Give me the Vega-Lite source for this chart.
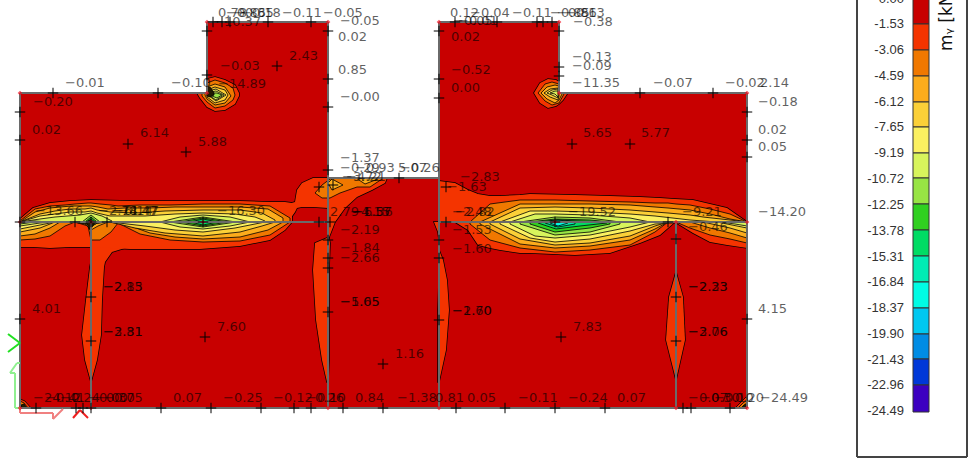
{"$schema":"https://vega.github.io/schema/vega-lite/v6.json","width":973,"height":458,"padding":0,"autosize":{"type":"none"},"background":"#ffffff","view":{"stroke":null},
"datasets":{
"base":[{"x":20,"x2":328,"y":93,"y2":408,"c":"L1"},{"x":207,"x2":328,"y":22,"y2":93,"c":"L1"},{"x":328,"x2":439,"y":178,"y2":408,"c":"L1"},{"x":439,"x2":747,"y":93,"y2":408,"c":"L1"},{"x":439,"x2":559,"y":22,"y2":93,"c":"L1"}],
"stems":[
{"k":"s1","c":"L2","y":245,"x":91,"x2":140},{"k":"s1","c":"L2","y":248,"x":91,"x2":125},{"k":"s1","c":"L2","y":252,"x":91,"x2":112},{"k":"s1","c":"L2","y":262,"x":91,"x2":105},{"k":"s1","c":"L2","y":267,"x":90,"x2":104},{"k":"s1","c":"L2","y":300,"x":86,"x2":102},{"k":"s1","c":"L2","y":335,"x":82,"x2":101},{"k":"s1","c":"L2","y":360,"x":85,"x2":97},{"k":"s1","c":"L2","y":382,"x":91,"x2":91},
{"k":"s2","c":"L2","y":238,"x":327,"x2":329},{"k":"s2","c":"L2","y":243,"x":315,"x2":330},{"k":"s2","c":"L2","y":270,"x":313,"x2":329},{"k":"s2","c":"L2","y":320,"x":316,"x2":329},{"k":"s2","c":"L2","y":360,"x":322,"x2":329},{"k":"s2","c":"L2","y":382,"x":327,"x2":328},
{"k":"s3","c":"L2","y":250,"x":439,"x2":439},{"k":"s3","c":"L2","y":260,"x":439,"x2":443},{"k":"s3","c":"L2","y":280,"x":439,"x2":447},{"k":"s3","c":"L2","y":310,"x":438,"x2":449},{"k":"s3","c":"L2","y":350,"x":438,"x2":446},{"k":"s3","c":"L2","y":382,"x":438,"x2":439},
{"k":"s4","c":"L2","y":222,"x":434,"x2":439},{"k":"s4","c":"L2","y":232,"x":438,"x2":439},{"k":"s4","c":"L2","y":240,"x":439,"x2":439},
{"k":"s5","c":"L2","y":272,"x":676,"x2":676},{"k":"s5","c":"L2","y":297,"x":669,"x2":683},{"k":"s5","c":"L2","y":340,"x":666,"x2":685},{"k":"s5","c":"L2","y":380,"x":676,"x2":676}],
"big":[
{"k":"a","c":"L2","x":20,"y":219,"y2":247},{"k":"a","c":"L2","x":33,"y":208,"y2":247},{"k":"a","c":"L2","x":50,"y":203,"y2":248},{"k":"a","c":"L2","x":70,"y":201,"y2":247},{"k":"a","c":"L2","x":91,"y":200,"y2":247},{"k":"a","c":"L2","x":130,"y":201,"y2":249},{"k":"a","c":"L2","x":200,"y":201,"y2":249},{"k":"a","c":"L2","x":240,"y":201,"y2":246},{"k":"a","c":"L2","x":270,"y":202,"y2":240},{"k":"a","c":"L2","x":285,"y":202,"y2":230},{"k":"a","c":"L2","x":292,"y":203,"y2":222},
{"k":"n","c":"L2","x":288,"y":204,"y2":222},{"k":"n","c":"L2","x":295,"y":202,"y2":212},{"k":"n","c":"L2","x":297,"y":190,"y2":208},{"k":"n","c":"L2","x":302,"y":183,"y2":207},{"k":"n","c":"L2","x":313,"y":178,"y2":207},{"k":"n","c":"L2","x":328,"y":178,"y2":208},{"k":"n","c":"L2","x":328.01,"y":178,"y2":240},{"k":"n","c":"L2","x":335,"y":178,"y2":222},{"k":"n","c":"L2","x":345,"y":178,"y2":208},{"k":"n","c":"L2","x":357,"y":178,"y2":197},{"k":"n","c":"L2","x":372,"y":178,"y2":190},{"k":"n","c":"L2","x":385,"y":178,"y2":183},{"k":"n","c":"L2","x":387,"y":178,"y2":178},
{"k":"r","c":"L2","x":439,"y":181,"y2":222},{"k":"r","c":"L2","x":455,"y":183,"y2":222},{"k":"r","c":"L2","x":468,"y":190,"y2":230},{"k":"r","c":"L2","x":478,"y":194,"y2":245},{"k":"r","c":"L2","x":490,"y":196,"y2":248},{"k":"r","c":"L2","x":500,"y":196,"y2":250},{"k":"r","c":"L2","x":520,"y":195,"y2":253},{"k":"r","c":"L2","x":530,"y":194,"y2":253},{"k":"r","c":"L2","x":575,"y":195,"y2":255},{"k":"r","c":"L2","x":610,"y":196,"y2":253},{"k":"r","c":"L2","x":640,"y":197,"y2":243},{"k":"r","c":"L2","x":660,"y":198,"y2":235},{"k":"r","c":"L2","x":675,"y":199,"y2":222},{"k":"r","c":"L2","x":693,"y":200,"y2":233},{"k":"r","c":"L2","x":710,"y":204,"y2":242},{"k":"r","c":"L2","x":727,"y":208,"y2":245},{"k":"r","c":"L2","x":747,"y":222,"y2":248},
{"k":"tb","c":"L2","x":197,"y":93,"y2":93},{"k":"tb","c":"L2","x":200,"y":93,"y2":98},{"k":"tb","c":"L2","x":207,"y":93,"y2":107},{"k":"tb","c":"L2","x":207.01,"y":79,"y2":107},{"k":"tb","c":"L2","x":215,"y":77,"y2":111},{"k":"tb","c":"L2","x":225,"y":80,"y2":110},{"k":"tb","c":"L2","x":235,"y":85,"y2":104},{"k":"tb","c":"L2","x":239,"y":93,"y2":96},
{"k":"tc","c":"L2","x":534,"y":93,"y2":93},{"k":"tc","c":"L2","x":540,"y":83,"y2":103},{"k":"tc","c":"L2","x":548,"y":79,"y2":108},{"k":"tc","c":"L2","x":556,"y":80,"y2":106},{"k":"tc","c":"L2","x":559,"y":82,"y2":104},{"k":"tc","c":"L2","x":559.01,"y":93,"y2":104},{"k":"tc","c":"L2","x":563,"y":93,"y2":100},{"k":"tc","c":"L2","x":567,"y":93,"y2":94}],
"bands":[
{"k":"l3","c":"L3","x":20,"y":221,"y2":240},{"k":"l3","c":"L3","x":35,"y":209,"y2":239},{"k":"l3","c":"L3","x":50,"y":206,"y2":236},{"k":"l3","c":"L3","x":65,"y":205,"y2":226},{"k":"l3","c":"L3","x":75,"y":204,"y2":222},{"k":"l3","c":"L3","x":88,"y":203,"y2":226},{"k":"l3","c":"L3","x":91,"y":203,"y2":240},{"k":"l3","c":"L3","x":100,"y":204,"y2":240},{"k":"l3","c":"L3","x":111,"y":205,"y2":232},{"k":"l3","c":"L3","x":118,"y":206,"y2":223},{"k":"l3","c":"L3","x":140,"y":205,"y2":234},{"k":"l3","c":"L3","x":170,"y":205,"y2":240},{"k":"l3","c":"L3","x":203,"y":204,"y2":242},{"k":"l3","c":"L3","x":240,"y":204,"y2":241},{"k":"l3","c":"L3","x":270,"y":206,"y2":235},{"k":"l3","c":"L3","x":290,"y":218,"y2":222},
{"k":"l4","c":"L4","x":20,"y":222,"y2":236},{"k":"l4","c":"L4","x":35,"y":212,"y2":234},{"k":"l4","c":"L4","x":50,"y":208,"y2":228},{"k":"l4","c":"L4","x":60,"y":207,"y2":222},{"k":"l4","c":"L4","x":72,"y":206,"y2":222},{"k":"l4","c":"L4","x":85,"y":206,"y2":224},{"k":"l4","c":"L4","x":91,"y":206,"y2":230},{"k":"l4","c":"L4","x":98,"y":207,"y2":226},{"k":"l4","c":"L4","x":108,"y":209,"y2":222},{"k":"l4","c":"L4","x":125,"y":208,"y2":224},{"k":"l4","c":"L4","x":150,"y":208,"y2":233},{"k":"l4","c":"L4","x":175,"y":207,"y2":237},{"k":"l4","c":"L4","x":203,"y":207,"y2":239},{"k":"l4","c":"L4","x":240,"y":207,"y2":237},{"k":"l4","c":"L4","x":268,"y":209,"y2":230},{"k":"l4","c":"L4","x":283,"y":218,"y2":222},
{"k":"l5","c":"L5","x":20,"y":222,"y2":232},{"k":"l5","c":"L5","x":40,"y":214,"y2":228},{"k":"l5","c":"L5","x":55,"y":211,"y2":222},{"k":"l5","c":"L5","x":70,"y":209,"y2":222},{"k":"l5","c":"L5","x":85,"y":209,"y2":223},{"k":"l5","c":"L5","x":91,"y":208,"y2":227},{"k":"l5","c":"L5","x":97,"y":210,"y2":223},{"k":"l5","c":"L5","x":110,"y":212,"y2":222},{"k":"l5","c":"L5","x":135,"y":213,"y2":228},{"k":"l5","c":"L5","x":165,"y":211,"y2":233},{"k":"l5","c":"L5","x":203,"y":210,"y2":236},{"k":"l5","c":"L5","x":240,"y":210,"y2":232},{"k":"l5","c":"L5","x":262,"y":213,"y2":226},{"k":"l5","c":"L5","x":275,"y":220,"y2":222},
{"k":"l6","c":"L6","x":20,"y":222,"y2":229},{"k":"l6","c":"L6","x":40,"y":216,"y2":225},{"k":"l6","c":"L6","x":55,"y":214,"y2":222},{"k":"l6","c":"L6","x":70,"y":212,"y2":222},{"k":"l6","c":"L6","x":85,"y":212,"y2":223},{"k":"l6","c":"L6","x":91,"y":211,"y2":226},{"k":"l6","c":"L6","x":97,"y":213,"y2":223},{"k":"l6","c":"L6","x":110,"y":216,"y2":222},{"k":"l6","c":"L6","x":145,"y":216,"y2":226},{"k":"l6","c":"L6","x":175,"y":214,"y2":230},{"k":"l6","c":"L6","x":203,"y":213,"y2":232},{"k":"l6","c":"L6","x":235,"y":214,"y2":228},{"k":"l6","c":"L6","x":255,"y":217,"y2":224},{"k":"l6","c":"L6","x":265,"y":221,"y2":222},
{"k":"l7a","c":"L7","x":20,"y":222,"y2":226},{"k":"l7a","c":"L7","x":40,"y":219,"y2":223},{"k":"l7a","c":"L7","x":55,"y":217,"y2":222},{"k":"l7a","c":"L7","x":80,"y":215,"y2":222},{"k":"l7a","c":"L7","x":91,"y":213,"y2":225},{"k":"l7a","c":"L7","x":102,"y":216,"y2":222},{"k":"l7a","c":"L7","x":112,"y":221,"y2":222},
{"k":"l7b","c":"L7","x":160,"y":222,"y2":222},{"k":"l7b","c":"L7","x":180,"y":217,"y2":227},{"k":"l7b","c":"L7","x":203,"y":215,"y2":229},{"k":"l7b","c":"L7","x":230,"y":217,"y2":226},{"k":"l7b","c":"L7","x":250,"y":222,"y2":222},
{"k":"l8a","c":"L8","x":20,"y":222,"y2":224},{"k":"l8a","c":"L8","x":35,"y":221,"y2":222},{"k":"l8a","c":"L8","x":48,"y":222,"y2":222},
{"k":"l8b","c":"L8","x":82,"y":222,"y2":222},{"k":"l8b","c":"L8","x":91,"y":215,"y2":224},{"k":"l8b","c":"L8","x":100,"y":222,"y2":222},
{"k":"l8c","c":"L8","x":170,"y":222,"y2":222},{"k":"l8c","c":"L8","x":203,"y":217,"y2":227},{"k":"l8c","c":"L8","x":236,"y":222,"y2":222},
{"k":"l9a","c":"L9","x":85,"y":222,"y2":222},{"k":"l9a","c":"L9","x":91,"y":217,"y2":224},{"k":"l9a","c":"L9","x":97,"y":222,"y2":222},
{"k":"l9b","c":"L9","x":180,"y":222,"y2":222},{"k":"l9b","c":"L9","x":203,"y":218,"y2":226},{"k":"l9b","c":"L9","x":228,"y":222,"y2":222},
{"k":"l10a","c":"L10","x":87,"y":222,"y2":222},{"k":"l10a","c":"L10","x":91,"y":219,"y2":224},{"k":"l10a","c":"L10","x":95,"y":222,"y2":222},
{"k":"l10b","c":"L10","x":190,"y":222,"y2":222},{"k":"l10b","c":"L10","x":203,"y":219,"y2":225},{"k":"l10b","c":"L10","x":218,"y":222,"y2":222},
{"k":"inkA","c":"ink","x":86,"y":222,"y2":222},{"k":"inkA","c":"ink","x":90,"y":220,"y2":230},{"k":"inkA","c":"ink","x":94,"y":222,"y2":224},
{"k":"nb3","c":"L3","x":315,"y":193,"y2":193},{"k":"nb3","c":"L3","x":322,"y":185,"y2":198},{"k":"nb3","c":"L3","x":330,"y":179,"y2":198},{"k":"nb3","c":"L3","x":340,"y":178,"y2":193},{"k":"nb3","c":"L3","x":357,"y":178,"y2":187},{"k":"nb3","c":"L3","x":370,"y":178,"y2":187},{"k":"nb3","c":"L3","x":382,"y":178,"y2":179},
{"k":"nb4","c":"L4","x":328,"y":183,"y2":183},{"k":"nb4","c":"L4","x":332,"y":179,"y2":190},{"k":"nb4","c":"L4","x":343,"y":185,"y2":185},
{"k":"nb5","c":"L4","x":356,"y":178,"y2":178},{"k":"nb5","c":"L4","x":365,"y":178,"y2":184},{"k":"nb5","c":"L4","x":378,"y":178,"y2":179},
{"k":"b3","c":"L3","x":202,"y":93,"y2":96},{"k":"b3","c":"L3","x":207,"y":93,"y2":102},{"k":"b3","c":"L3","x":207.01,"y":83,"y2":102},{"k":"b3","c":"L3","x":215,"y":80,"y2":108},{"k":"b3","c":"L3","x":225,"y":83,"y2":106},{"k":"b3","c":"L3","x":233,"y":88,"y2":100},{"k":"b3","c":"L3","x":235,"y":95,"y2":95},
{"k":"b4","c":"L4","x":205,"y":93,"y2":95},{"k":"b4","c":"L4","x":207,"y":93,"y2":99},{"k":"b4","c":"L4","x":207.01,"y":87,"y2":99},{"k":"b4","c":"L4","x":215,"y":84,"y2":105},{"k":"b4","c":"L4","x":225,"y":87,"y2":103},{"k":"b4","c":"L4","x":231,"y":96,"y2":96},
{"k":"b5","c":"L5","x":207.01,"y":90,"y2":97},{"k":"b5","c":"L5","x":215,"y":87,"y2":103},{"k":"b5","c":"L5","x":225,"y":90,"y2":100},{"k":"b5","c":"L5","x":228,"y":95,"y2":95},
{"k":"b6","c":"L6","x":208,"y":91,"y2":95},{"k":"b6","c":"L6","x":216,"y":89,"y2":101},{"k":"b6","c":"L6","x":226,"y":95,"y2":95},
{"k":"b7","c":"L7","x":210,"y":92,"y2":96},{"k":"b7","c":"L7","x":216,"y":91,"y2":100},{"k":"b7","c":"L7","x":224,"y":95,"y2":95},
{"k":"b8","c":"L8","x":212,"y":93,"y2":96},{"k":"b8","c":"L8","x":217,"y":93,"y2":98},{"k":"b8","c":"L8","x":222,"y":95,"y2":95},
{"k":"inkB","c":"ink","x":207,"y":88,"y2":96},{"k":"inkB","c":"ink","x":210,"y":87,"y2":97},{"k":"inkB","c":"ink","x":214,"y":93,"y2":95},
{"k":"c3","c":"L3","x":538,"y":93,"y2":93},{"k":"c3","c":"L3","x":545,"y":84,"y2":101},{"k":"c3","c":"L3","x":552,"y":82,"y2":105},{"k":"c3","c":"L3","x":559,"y":84,"y2":103},{"k":"c3","c":"L3","x":559.01,"y":93,"y2":103},{"k":"c3","c":"L3","x":564,"y":93,"y2":94},
{"k":"c4","c":"L4","x":541,"y":93,"y2":93},{"k":"c4","c":"L4","x":547,"y":87,"y2":99},{"k":"c4","c":"L4","x":555,"y":85,"y2":103},{"k":"c4","c":"L4","x":559,"y":86,"y2":100},{"k":"c4","c":"L4","x":559.01,"y":93,"y2":100},{"k":"c4","c":"L4","x":562,"y":93,"y2":94},
{"k":"c5","c":"L5","x":544,"y":93,"y2":93},{"k":"c5","c":"L5","x":550,"y":89,"y2":97},{"k":"c5","c":"L5","x":558,"y":88,"y2":100},{"k":"c5","c":"L5","x":559,"y":93,"y2":96},
{"k":"c6","c":"L6","x":547,"y":93,"y2":93},{"k":"c6","c":"L6","x":552,"y":90,"y2":95},{"k":"c6","c":"L6","x":558,"y":89,"y2":98},
{"k":"c7","c":"L7","x":550,"y":93,"y2":93},{"k":"c7","c":"L7","x":555,"y":91,"y2":94},{"k":"c7","c":"L7","x":558,"y":91,"y2":97},
{"k":"q3","c":"L3","x":470,"y":222,"y2":224},{"k":"q3","c":"L3","x":490,"y":204,"y2":240},{"k":"q3","c":"L3","x":520,"y":200,"y2":248},{"k":"q3","c":"L3","x":555,"y":200,"y2":252},{"k":"q3","c":"L3","x":590,"y":201,"y2":250},{"k":"q3","c":"L3","x":630,"y":202,"y2":245},{"k":"q3","c":"L3","x":655,"y":203,"y2":232},{"k":"q3","c":"L3","x":668,"y":203,"y2":222},{"k":"q3","c":"L3","x":676,"y":204,"y2":222},{"k":"q3","c":"L3","x":690,"y":205,"y2":228},{"k":"q3","c":"L3","x":710,"y":209,"y2":235},{"k":"q3","c":"L3","x":730,"y":214,"y2":239},{"k":"q3","c":"L3","x":747,"y":222,"y2":243},
{"k":"q4","c":"L4","x":480,"y":222,"y2":224},{"k":"q4","c":"L4","x":520,"y":204,"y2":244},{"k":"q4","c":"L4","x":555,"y":204,"y2":248},{"k":"q4","c":"L4","x":590,"y":204,"y2":246},{"k":"q4","c":"L4","x":630,"y":205,"y2":240},{"k":"q4","c":"L4","x":655,"y":207,"y2":229},{"k":"q4","c":"L4","x":668,"y":208,"y2":222},{"k":"q4","c":"L4","x":690,"y":210,"y2":222},{"k":"q4","c":"L4","x":710,"y":214,"y2":228},{"k":"q4","c":"L4","x":730,"y":219,"y2":233},{"k":"q4","c":"L4","x":747,"y":222,"y2":238},
{"k":"q5","c":"L5","x":490,"y":222,"y2":224},{"k":"q5","c":"L5","x":520,"y":208,"y2":239},{"k":"q5","c":"L5","x":555,"y":207,"y2":245},{"k":"q5","c":"L5","x":590,"y":208,"y2":243},{"k":"q5","c":"L5","x":630,"y":210,"y2":236},{"k":"q5","c":"L5","x":655,"y":212,"y2":226},{"k":"q5","c":"L5","x":668,"y":213,"y2":222},{"k":"q5","c":"L5","x":690,"y":215,"y2":222},{"k":"q5","c":"L5","x":703,"y":217,"y2":222},{"k":"q5","c":"L5","x":730,"y":220,"y2":228},{"k":"q5","c":"L5","x":747,"y":222,"y2":233},
{"k":"q6","c":"L6","x":500,"y":222,"y2":224},{"k":"q6","c":"L6","x":530,"y":211,"y2":238},{"k":"q6","c":"L6","x":555,"y":211,"y2":242},{"k":"q6","c":"L6","x":590,"y":212,"y2":239},{"k":"q6","c":"L6","x":630,"y":214,"y2":231},{"k":"q6","c":"L6","x":655,"y":216,"y2":224},{"k":"q6","c":"L6","x":690,"y":220,"y2":222},{"k":"q6","c":"L6","x":717,"y":222,"y2":222},{"k":"q6","c":"L6","x":747,"y":222,"y2":228},
{"k":"q7","c":"L7","x":510,"y":222,"y2":224},{"k":"q7","c":"L7","x":535,"y":214,"y2":236},{"k":"q7","c":"L7","x":555,"y":214,"y2":238},{"k":"q7","c":"L7","x":590,"y":215,"y2":235},{"k":"q7","c":"L7","x":630,"y":218,"y2":227},{"k":"q7","c":"L7","x":650,"y":222,"y2":222},
{"k":"q7b","c":"L7","x":720,"y":222,"y2":222},{"k":"q7b","c":"L7","x":735,"y":222,"y2":224},{"k":"q7b","c":"L7","x":747,"y":222,"y2":226},
{"k":"q8","c":"L8","x":520,"y":222,"y2":224},{"k":"q8","c":"L8","x":555,"y":217,"y2":235},{"k":"q8","c":"L8","x":590,"y":218,"y2":232},{"k":"q8","c":"L8","x":620,"y":222,"y2":224},
{"k":"q9","c":"L9","x":530,"y":222,"y2":224},{"k":"q9","c":"L9","x":555,"y":219,"y2":232},{"k":"q9","c":"L9","x":590,"y":220,"y2":228},{"k":"q9","c":"L9","x":610,"y":222,"y2":224},
{"k":"q10","c":"L10","x":538,"y":222,"y2":223},{"k":"q10","c":"L10","x":556,"y":220,"y2":229},{"k":"q10","c":"L10","x":580,"y":221,"y2":226},{"k":"q10","c":"L10","x":607,"y":222,"y2":223},
{"k":"q11","c":"L11","x":545,"y":222,"y2":223},{"k":"q11","c":"L11","x":558,"y":220,"y2":227},{"k":"q11","c":"L11","x":575,"y":222,"y2":224},
{"k":"q12","c":"L12","x":550,"y":222,"y2":223},{"k":"q12","c":"L12","x":558,"y":221,"y2":226},{"k":"q12","c":"L12","x":568,"y":222,"y2":223},
{"k":"e2","c":"L2","x":20,"y":399,"y2":408},{"k":"e2","c":"L2","x":25,"y":401,"y2":408},{"k":"e2","c":"L2","x":31,"y":408,"y2":408},
{"k":"e3","c":"L3","x":20,"y":401,"y2":408},{"k":"e3","c":"L3","x":24,"y":403,"y2":408},{"k":"e3","c":"L3","x":28,"y":408,"y2":408},
{"k":"e4","c":"ink","x":21,"y":405,"y2":408},{"k":"e4","c":"ink","x":24,"y":404,"y2":408},{"k":"e4","c":"ink","x":27,"y":408,"y2":408},
{"k":"f2","c":"L2","x":735,"y":408,"y2":408},{"k":"f2","c":"L2","x":741,"y":402,"y2":408},{"k":"f2","c":"L2","x":747,"y":396,"y2":408},
{"k":"f3","c":"L3","x":738,"y":408,"y2":408},{"k":"f3","c":"L3","x":743,"y":403,"y2":408},{"k":"f3","c":"L3","x":747,"y":400,"y2":408},
{"k":"f4","c":"ink","x":741,"y":408,"y2":408},{"k":"f4","c":"ink","x":744,"y":405,"y2":408},{"k":"f4","c":"ink","x":747,"y":403,"y2":408}],
"frame":[
{"c":"frame","x":20,"x2":207,"y":93,"y2":93},{"c":"frame","x":207,"x2":207,"y":22,"y2":93},{"c":"frame","x":207,"x2":328,"y":22,"y2":22},{"c":"frame","x":328,"x2":328,"y":22,"y2":408},{"c":"frame","x":328,"x2":439,"y":178,"y2":178},{"c":"frame","x":439,"x2":439,"y":22,"y2":408},{"c":"frame","x":439,"x2":559,"y":22,"y2":22},{"c":"frame","x":559,"x2":559,"y":22,"y2":93},{"c":"frame","x":559,"x2":747,"y":93,"y2":93},{"c":"frame","x":747,"x2":747,"y":93,"y2":408},{"c":"frame","x":20,"x2":747,"y":408,"y2":408},{"c":"frame","x":20,"x2":20,"y":93,"y2":408},{"c":"frame","x":20,"x2":328,"y":222,"y2":222},{"c":"frame","x":439,"x2":747,"y":222,"y2":222},{"c":"frame","x":91,"x2":91,"y":222,"y2":408},{"c":"frame","x":676,"x2":676,"y":222,"y2":408},
{"c":"gA","x":8,"x2":20,"y":334,"y2":343},{"c":"gA","x":8,"x2":20,"y":352,"y2":343},
{"c":"gB","x":15,"x2":15,"y":408,"y2":373},{"c":"gB","x":15,"x2":10,"y":373,"y2":373},{"c":"gB","x":10,"x2":17,"y":373,"y2":363},{"c":"gB","x":17,"x2":20,"y":363,"y2":363},{"c":"gB","x":15,"x2":20,"y":408,"y2":408},
{"c":"rB","x":20,"x2":53,"y":413,"y2":413},{"c":"rB","x":53,"x2":53,"y":413,"y2":419},{"c":"rB","x":53,"x2":63,"y":419,"y2":409},{"c":"rB","x":20,"x2":20,"y":408,"y2":413},
{"c":"rA","x":73,"x2":80,"y":418,"y2":410},{"c":"rA","x":80,"x2":88,"y":410,"y2":418},
{"c":"box","x":857,"x2":857,"y":-5,"y2":457},{"c":"box","x":967,"x2":967,"y":-5,"y2":457},{"c":"box","x":857,"x2":967,"y":457,"y2":457}],
"swatches":[
{"c":"L1","x":913,"x2":929,"y":-3,"y2":24},{"c":"L2","x":913,"x2":929,"y":24,"y2":50},{"c":"L3","x":913,"x2":929,"y":50,"y2":76},{"c":"L4","x":913,"x2":929,"y":76,"y2":102},{"c":"L5","x":913,"x2":929,"y":102,"y2":127},{"c":"L6","x":913,"x2":929,"y":127,"y2":153},{"c":"L7","x":913,"x2":929,"y":153,"y2":178},{"c":"L8","x":913,"x2":929,"y":178,"y2":204},{"c":"L9","x":913,"x2":929,"y":204,"y2":230},{"c":"L10","x":913,"x2":929,"y":230,"y2":256},{"c":"L11","x":913,"x2":929,"y":256,"y2":282},{"c":"L12","x":913,"x2":929,"y":282,"y2":308},{"c":"L13","x":913,"x2":929,"y":308,"y2":334},{"c":"L14","x":913,"x2":929,"y":334,"y2":359},{"c":"L15","x":913,"x2":929,"y":359,"y2":385},{"c":"L16","x":913,"x2":929,"y":385,"y2":412}],
"legendText":[{"x":904,"y":-1,"t":"0.00"},{"x":904,"y":24,"t":"-1.53"},{"x":904,"y":50,"t":"-3.06"},{"x":904,"y":76,"t":"-4.59"},{"x":904,"y":102,"t":"-6.12"},{"x":904,"y":127,"t":"-7.65"},{"x":904,"y":153,"t":"-9.19"},{"x":904,"y":179,"t":"-10.72"},{"x":904,"y":205,"t":"-12.25"},{"x":904,"y":231,"t":"-13.78"},{"x":904,"y":257,"t":"-15.31"},{"x":904,"y":282,"t":"-16.84"},{"x":904,"y":308,"t":"-18.37"},{"x":904,"y":334,"t":"-19.90"},{"x":904,"y":360,"t":"-21.43"},{"x":904,"y":385,"t":"-22.96"},{"x":904,"y":411,"t":"-24.49"}],
"crosses":[{"x":213,"y":22},{"x":222,"y":22},{"x":230,"y":22},{"x":268,"y":22},{"x":311,"y":22},{"x":207,"y":31},{"x":207,"y":75},{"x":328,"y":31},{"x":328,"y":79},{"x":328,"y":107},{"x":328,"y":170},{"x":53,"y":93},{"x":158,"y":93},{"x":20,"y":112},{"x":20,"y":140},{"x":128,"y":144},{"x":186,"y":152},{"x":277,"y":66},{"x":319,"y":187},{"x":20,"y":222},{"x":75,"y":222},{"x":91,"y":222},{"x":107,"y":222},{"x":203,"y":222},{"x":319,"y":222},{"x":330,"y":222},{"x":91,"y":297},{"x":91,"y":341},{"x":20,"y":319},{"x":205,"y":337},{"x":36,"y":408},{"x":76,"y":408},{"x":83,"y":408},{"x":91,"y":408},{"x":161,"y":408},{"x":211,"y":408},{"x":261,"y":408},{"x":294,"y":408},{"x":311,"y":408},{"x":343,"y":408},{"x":383,"y":408},{"x":456,"y":408},{"x":505,"y":408},{"x":555,"y":408},{"x":605,"y":408},{"x":683,"y":408},{"x":691,"y":408},{"x":730,"y":408},{"x":328,"y":240},{"x":328,"y":258},{"x":328,"y":268},{"x":328,"y":312},{"x":439,"y":240},{"x":439,"y":258},{"x":439,"y":320},{"x":383,"y":364},{"x":561,"y":337},{"x":439,"y":31},{"x":439,"y":79},{"x":439,"y":98},{"x":455,"y":22},{"x":497,"y":22},{"x":537,"y":22},{"x":543,"y":22},{"x":552,"y":22},{"x":559,"y":31},{"x":559,"y":67},{"x":559,"y":76},{"x":399,"y":178},{"x":446,"y":187},{"x":446,"y":222},{"x":572,"y":144},{"x":630,"y":144},{"x":747,"y":112},{"x":747,"y":140},{"x":747,"y":157},{"x":640,"y":93},{"x":713,"y":93},{"x":668,"y":222},{"x":555,"y":222},{"x":676,"y":239},{"x":676,"y":297},{"x":676,"y":341},{"x":747,"y":319},{"x":333,"y":185}],
"nodes":[{"x":20,"y":93},{"x":20,"y":222},{"x":91,"y":222},{"x":203,"y":222},{"x":328,"y":22},{"x":439,"y":22},{"x":559,"y":22},{"x":207,"y":22},{"x":328,"y":408},{"x":439,"y":408},{"x":676,"y":222},{"x":555,"y":222},{"x":747,"y":222},{"x":747,"y":93},{"x":747,"y":408},{"x":20,"y":408},{"x":91,"y":408},{"x":676,"y":408},{"x":207,"y":93},{"x":559,"y":93}],
"labels":[
{"x":65,"y":83,"t":"−0.01"},{"x":171,"y":83,"t":"−0.10"},{"x":218,"y":84,"t":"−14.89"},{"x":220,"y":66,"t":"−0.03"},{"x":289,"y":56,"t":"2.43"},{"x":33,"y":102,"t":"−0.20"},{"x":32,"y":130,"t":"0.02"},{"x":140,"y":133,"t":"6.14"},{"x":198,"y":142,"t":"5.88"},
{"x":35,"y":211,"t":"−13.66"},{"x":98,"y":211,"t":"−2.74"},{"x":113,"y":211,"t":"−6.14"},{"x":118,"y":211,"t":"−8.47"},{"x":111,"y":211,"t":"−11.47"},{"x":217,"y":211,"t":"−16.30"},
{"x":218,"y":13,"t":"0.78"},{"x":226,"y":13,"t":"−0.86"},{"x":234,"y":13,"t":"−0.35"},{"x":241,"y":13,"t":"−0.18"},{"x":282,"y":13,"t":"−0.11"},{"x":323,"y":13,"t":"−0.05"},{"x":213,"y":22,"t":"−10.37"},
{"x":340,"y":21,"t":"−0.05"},{"x":338,"y":37,"t":"0.02"},{"x":338,"y":70,"t":"0.85"},{"x":340,"y":97,"t":"−0.00"},{"x":340,"y":158,"t":"−1.37"},{"x":340,"y":168,"t":"−0.29"},{"x":355,"y":168,"t":"−0.93"},{"x":398,"y":168,"t":"5.07"},{"x":400,"y":168,"t":"−0.26"},{"x":342,"y":177,"t":"−3.72"},{"x":346,"y":177,"t":"−4.21"},
{"x":330,"y":212,"t":"2.79"},{"x":350,"y":212,"t":"−4.15"},{"x":352,"y":212,"t":"−1.57"},{"x":353,"y":212,"t":"−6.36"},{"x":340,"y":230,"t":"−2.19"},{"x":340,"y":248,"t":"−1.84"},{"x":340,"y":258,"t":"−2.66"},{"x":340,"y":302,"t":"−5.65"},{"x":340,"y":302,"t":"−1.05"},{"x":395,"y":354,"t":"1.16"},
{"x":450,"y":13,"t":"0.12"},{"x":470,"y":13,"t":"−0.04"},{"x":512,"y":13,"t":"−0.11"},{"x":550,"y":13,"t":"−0.85"},{"x":557,"y":13,"t":"−0.86"},{"x":565,"y":13,"t":"−0.13"},{"x":453,"y":21,"t":"−0.05"},{"x":458,"y":21,"t":"−0.01"},{"x":451,"y":37,"t":"0.02"},{"x":451,"y":70,"t":"−0.52"},{"x":451,"y":88,"t":"0.00"},{"x":460,"y":177,"t":"−2.83"},{"x":447,"y":187,"t":"−1.63"},{"x":452,"y":212,"t":"−2.48"},{"x":455,"y":212,"t":"−2.82"},{"x":452,"y":230,"t":"−1.53"},{"x":452,"y":249,"t":"−1.60"},{"x":452,"y":311,"t":"−2.60"},{"x":452,"y":311,"t":"−1.70"},
{"x":573,"y":22,"t":"−0.38"},{"x":572,"y":57,"t":"−0.13"},{"x":572,"y":66,"t":"−0.09"},{"x":572,"y":83,"t":"−11.35"},{"x":653,"y":83,"t":"−0.07"},{"x":725,"y":83,"t":"−0.02"},{"x":760,"y":83,"t":"2.14"},{"x":758,"y":102,"t":"−0.18"},{"x":758,"y":130,"t":"0.02"},{"x":758,"y":147,"t":"0.05"},{"x":583,"y":133,"t":"5.65"},{"x":641,"y":133,"t":"5.77"},{"x":568,"y":212,"t":"−19.52"},{"x":682,"y":212,"t":"−9.21"},{"x":688,"y":227,"t":"−0.46"},{"x":758,"y":212,"t":"−14.20"},{"x":758,"y":309,"t":"4.15"},{"x":688,"y":287,"t":"−2.23"},{"x":688,"y":287,"t":"−2.33"},{"x":688,"y":332,"t":"−3.06"},{"x":688,"y":332,"t":"−2.76"},{"x":573,"y":327,"t":"7.83"},
{"x":32,"y":309,"t":"4.01"},{"x":103,"y":287,"t":"−2.85"},{"x":103,"y":287,"t":"−2.13"},{"x":103,"y":332,"t":"−3.81"},{"x":103,"y":332,"t":"−2.31"},{"x":217,"y":327,"t":"7.60"},
{"x":33,"y":398,"t":"−24.12"},{"x":60,"y":398,"t":"−0.24"},{"x":45,"y":398,"t":"−0.41"},{"x":88,"y":398,"t":"−0.00"},{"x":95,"y":398,"t":"−0.30"},{"x":103,"y":398,"t":"−0.75"},{"x":173,"y":398,"t":"0.07"},{"x":223,"y":398,"t":"−0.25"},{"x":273,"y":398,"t":"−0.12"},{"x":306,"y":398,"t":"−0.10"},{"x":315,"y":398,"t":"0.26"},{"x":355,"y":398,"t":"0.84"},{"x":397,"y":398,"t":"−1.38"},{"x":435,"y":398,"t":"0.81"},{"x":467,"y":398,"t":"0.05"},{"x":518,"y":398,"t":"−0.11"},{"x":568,"y":398,"t":"−0.24"},{"x":617,"y":398,"t":"0.07"},{"x":688,"y":398,"t":"−0.07"},{"x":700,"y":398,"t":"−0.30"},{"x":714,"y":398,"t":"−0.10"},{"x":735,"y":398,"t":"0.20"},{"x":760,"y":398,"t":"−24.49"}],
"title":[{"x":947,"y":51,"t":"mᵧ [kNm/m]"}]
},
"encoding":{
"x":{"field":"x","type":"quantitative","scale":{"domain":[0,973],"nice":false,"zero":false},"axis":null},
"y":{"field":"y","type":"quantitative","scale":{"domain":[0,458],"reverse":true,"nice":false,"zero":false},"axis":null},
"color":{"field":"c","type":"nominal","legend":null,"scale":{"domain":["L1","L2","L3","L4","L5","L6","L7","L8","L9","L10","L11","L12","L13","L14","L15","L16","frame","gA","gB","rA","rB","box","ink"],"range":["#c80000","#f43400","#f07800","#fcac1c","#fbd038","#fbf060","#d8f45c","#98e444","#30d020","#00dc64","#00ecb4","#00fce4","#00c8f0","#008ce4","#0038d8","#3c00c0","#6a6a6a","#22e022","#90f090","#f02020","#f08080","#444444","#201a00"]}}
},
"layer":[
{"data":{"name":"base"},"mark":{"type":"rect"},"encoding":{"x2":{"field":"x2"},"y2":{"field":"y2"}}},
{"data":{"name":"stems"},"mark":{"type":"area","orient":"horizontal","stroke":"#000000","strokeWidth":1.5},"encoding":{"x2":{"field":"x2"},"detail":{"field":"k"}}},
{"data":{"name":"big"},"mark":{"type":"area","stroke":"#000000","strokeWidth":1.5},"encoding":{"y2":{"field":"y2"},"detail":{"field":"k"}}},
{"data":{"name":"stems"},"mark":{"type":"area","orient":"horizontal"},"encoding":{"x2":{"field":"x2"},"detail":{"field":"k"}}},
{"data":{"name":"big"},"mark":{"type":"area"},"encoding":{"y2":{"field":"y2"},"detail":{"field":"k"}}},
{"data":{"name":"bands"},"mark":{"type":"area","stroke":"#000000","strokeWidth":0.8},"encoding":{"y2":{"field":"y2"},"detail":{"field":"k"}}},
{"data":{"name":"frame"},"mark":{"type":"rule","strokeWidth":2},"encoding":{"x2":{"field":"x2"},"y2":{"field":"y2"}}},
{"data":{"name":"swatches"},"mark":{"type":"rect","stroke":"#333333","strokeWidth":1},"encoding":{"x2":{"field":"x2"},"y2":{"field":"y2"}}},
{"data":{"name":"nodes"},"mark":{"type":"point","filled":true,"shape":"diamond","size":22},"encoding":{"color":{"value":"#f01020"}}},
{"data":{"name":"crosses"},"mark":{"type":"point","shape":"M-1,0L1,0M0,-1L0,1","size":110,"filled":false,"strokeWidth":1,"opacity":1},"encoding":{"color":{"value":"#000000"}}},
{"data":{"name":"labels"},"mark":{"type":"text","align":"left","baseline":"middle","font":"DejaVu Sans","fontSize":13,"opacity":0.62},"encoding":{"text":{"field":"t"},"color":{"value":"#000000"}}},
{"data":{"name":"legendText"},"mark":{"type":"text","align":"right","baseline":"middle","font":"Liberation Sans","fontSize":13},"encoding":{"text":{"field":"t"},"color":{"value":"#333333"}}},
{"data":{"name":"title"},"mark":{"type":"text","align":"left","baseline":"middle","angle":270,"font":"DejaVu Sans","fontSize":17},"encoding":{"text":{"field":"t"},"color":{"value":"#111111"}}}
]}
